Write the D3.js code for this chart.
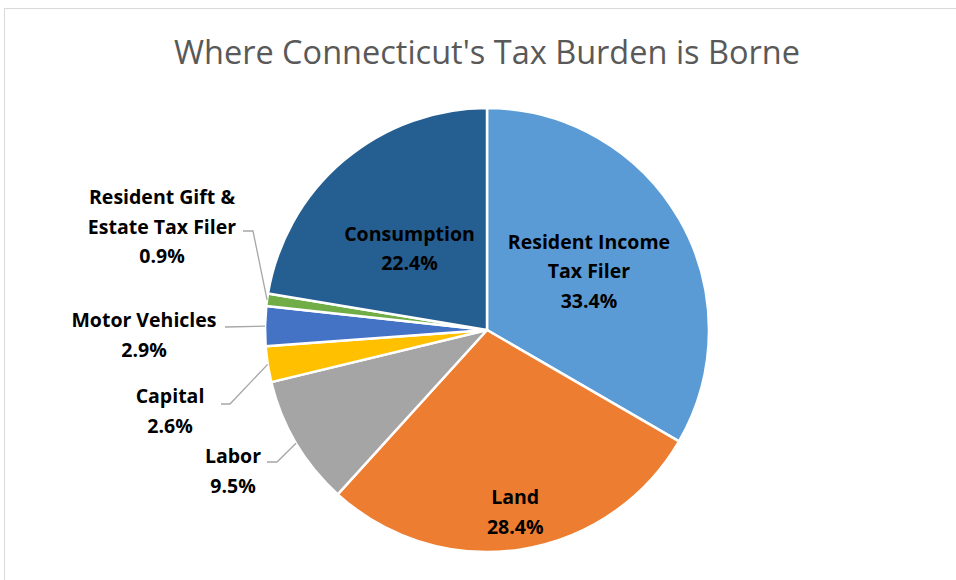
<!DOCTYPE html>
<html>
<head>
<meta charset="utf-8">
<script src="https://cdn.jsdelivr.net/npm/d3@7"></script>
<style>
  html, body { margin: 0; padding: 0; background: #fff; }
  svg { display: block; }
</style>
</head>
<body>
<div id="chart"></div>
<script>
// chart data
const categories = ['Resident Income Tax Filer', 'Land', 'Labor', 'Capital', 'Motor Vehicles', 'Resident Gift & Estate Tax Filer', 'Consumption'];
const shares = [33.4, 28.4, 9.5, 2.6, 2.9, 0.9, 22.4];
const labelLines = [
    ['Resident Income', 'Tax Filer'],
    ['Land'],
    ['Labor'],
    ['Capital'],
    ['Motor Vehicles'],
    ['Resident Gift &', 'Estate Tax Filer'],
    ['Consumption']
];
const colors = ['#5B9BD5', '#ED7D31', '#A5A5A5', '#FFC000', '#4472C4', '#70AD47', '#255E91'];

const width = 956, height = 580;
const cx = 487, cy = 330, radius = 222;

const svg = d3.select('#chart').append('svg')
    .attr('width', width)
    .attr('height', height);

// chart frame
svg.append('rect')
    .attr('x', 4.5).attr('y', 8.5)
    .attr('width', 1000).attr('height', 1000)
    .attr('fill', '#fff')
    .attr('stroke', '#d9d9d9');

svg.append('text')
    .attr('x', 487).attr('y', 64)
    .attr('text-anchor', 'middle')
    .attr('font-family', '"Open Sans", sans-serif')
    .attr('font-size', 32.5)
    .attr('fill', '#595959')
    .text("Where Connecticut's Tax Burden is Borne");

const pieData = d3.pie().sort(null).value(d => d)(shares);
const arc = d3.arc().innerRadius(0).outerRadius(radius);

const g = svg.append('g').attr('transform', `translate(${cx},${cy})`);

g.selectAll('path')
    .data(pieData)
    .enter().append('path')
    .attr('d', arc)
    .attr('fill', (d, i) => colors[i])
    .attr('stroke', '#fff')
    .attr('stroke-width', 2.5)
    .attr('stroke-linejoin', 'round');

// label layout: inside labels use a radius factor, outside ones an anchor + elbow
const labelLayout = [
    {inside: true, k: 0.53, dx: 0, dy: 0},
    {inside: true, k: 0.83, dx: 0, dy: 0},
    {inside: false, tx: 233, ty: 456, lx: 267, ly: 462, ex: 277},
    {inside: false, tx: 170, ty: 396, lx: 221, ly: 404, ex: 230},
    {inside: false, tx: 144, ty: 320, lx: 225, ly: 327, ex: 225},
    {inside: false, tx: 162, ty: 197, lx: 243, ly: 231, ex: 253},
    {inside: true, k: 0.54, dx: 0, dy: 10}
];

const lineH = 29.5;
const fontFam = '"Open Sans", sans-serif';

pieData.forEach(function(d, i){
    let lay = labelLayout[i];
    let lines = labelLines[i].concat([shares[i].toFixed(1) + '%']);
    let x, y;
    if(lay.inside){
        let a = (d.startAngle + d.endAngle) / 2;
        let r = radius * lay.k;
        x = cx + r * Math.sin(a) + lay.dx;
        y = cy - r * Math.cos(a) + lay.dy - (lines.length - 1) * lineH / 2;
        y += 7;
    }else{
        x = lay.tx;
        y = lay.ty + 7;
        // leader line from the slice edge
        let a = (d.startAngle + d.endAngle) / 2;
        let px = cx + radius * Math.sin(a);
        let py = cy - radius * Math.cos(a);
        svg.append('polyline')
            .attr('points', [[lay.lx, lay.ly], [lay.ex, lay.ly], [px, py]].map(p => p.join(',')).join(' '))
            .attr('fill', 'none')
            .attr('stroke', '#a6a6a6')
            .attr('stroke-width', 1.3);
    }
    let t = svg.append('text')
        .attr('text-anchor', 'middle')
        .attr('font-family', fontFam)
        .attr('font-weight', 'bold')
        .attr('font-size', 19.5)
        .attr('fill', '#000');
    lines.forEach(function(s, j){
        t.append('tspan').attr('x', x).attr('y', y + j * lineH).text(s);
    });
});
</script>
</body>
</html>
